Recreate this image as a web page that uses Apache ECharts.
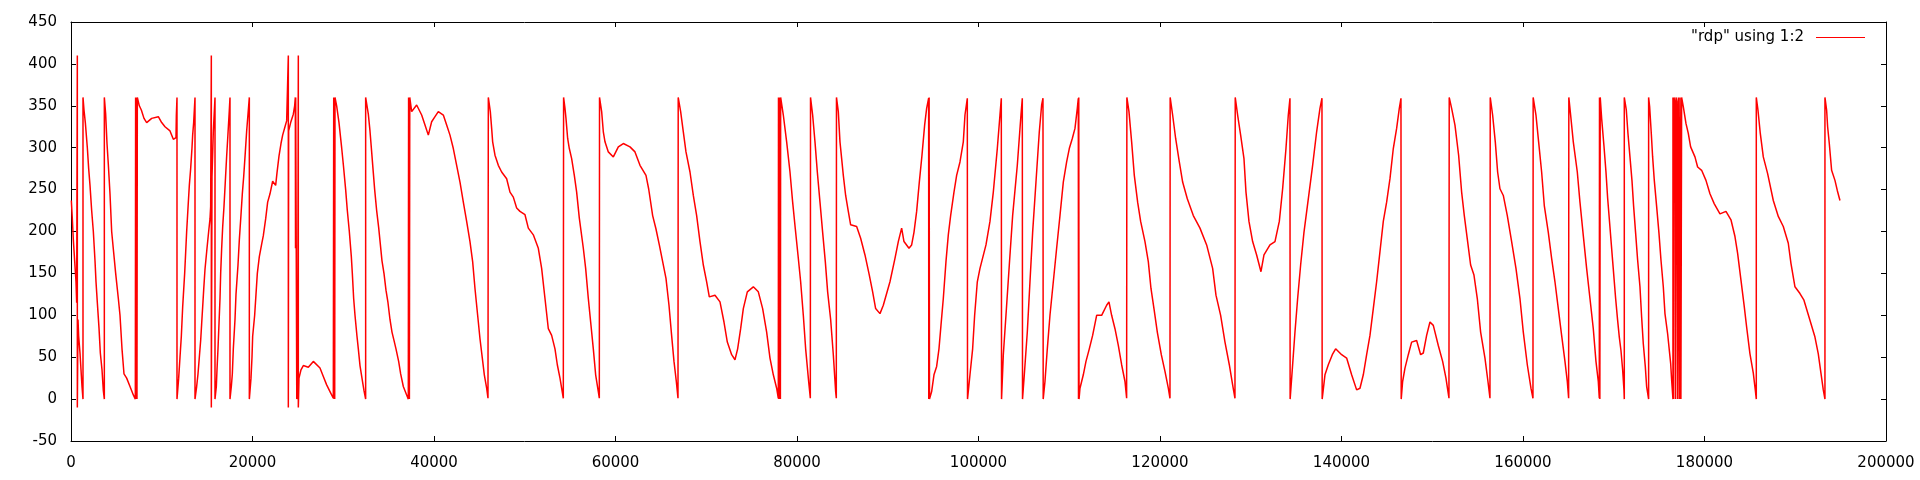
<!DOCTYPE html>
<html>
<head>
<meta charset="utf-8">
<script src="https://cdn.jsdelivr.net/npm/echarts@6/dist/echarts.min.js"></script>
<style>
html,body{margin:0;padding:0;background:#fff;}
#chart{width:1920px;height:480px;}
</style>
</head>
<body>
<div id="chart"></div>
<script>
const seriesName = '"rdp" using 1:2';
const xMin = 0, xMax = 200000, xStep = 20000;
const yMin = -50, yMax = 450, yStep = 50;

const rdpPart1 = [[37,237],[147,215],[257,190],[404,165],[551,140],[624,115],[698,410],[698,-10],[771,95],[845,75],[992,55],[1102,35],[1212,15],[1322,0],[1322,360],[1432,345],[1579,330],[1800,300],[1947,275],[2094,255],[2277,225],[2461,200],[2645,165],[2755,140],[2902,115],[3085,85],[3232,55],[3416,35],[3563,10],[3673,0],[3673,360],[3820,340],[3967,305],[4114,280],[4297,245],[4481,200],[4701,175],[4922,150],[5216,120],[5399,100],[5620,60],[5840,30],[6134,25],[6501,15],[6869,5],[7089,0],[7120,360],[7150,0],[7180,360],[7210,0],[7240,360],[7270,0],[7309,360],[7530,350],[7750,345],[8044,335],[8338,330],[8889,335],[9623,337],[9991,330],[10358,325],[10909,320],[11276,310],[11570,312],[11607,338],[11680,360],[11680,0],[11864,25],[12011,50],[12158,75],[12305,110],[12415,130],[12525,150],[12635,175],[12745,200],[12929,235],[13039,255],[13186,275],[13333,300],[13406,315],[13517,330],[13664,360],[13664,0],[13847,15],[13994,30],[14141,50],[14288,70],[14398,90],[14509,110],[14619,130],[14766,155],[14986,180],[15170,200],[15317,215],[15390,230],[15463,410],[15463,-10],[15537,265],[15684,320],[15868,360],[15868,0],[16015,15],[16088,35],[16198,60],[16308,90],[16418,120],[16492,150],[16602,180],[16712,205],[16859,230],[17006,260],[17153,290],[17263,310],[17447,345],[17520,360],[17520,0],[17667,15],[17777,30],[17887,60],[18071,95],[18181,125],[18402,160],[18549,190],[18732,220],[18879,245],[19026,265],[19210,295],[19357,320],[19541,345],[19651,360],[19651,0],[19835,25],[19944,50],[20018,75],[20238,100],[20385,125],[20532,150],[20752,170],[21010,185],[21193,195],[21450,215],[21670,235],[21928,245],[22221,260],[22552,255],[22699,270],[22919,290],[23140,305],[23323,315],[23580,325],[23764,332],[23948,410],[23948,-10],[23984,320],[24205,330],[24498,340],[24645,350],[24719,360],[24740,180],[24760,360],[24866,360],[24880,0],[24976,10],[25049,410],[25049,-10],[25123,25],[25343,35],[25600,40],[26151,38]];

const rdpPart2 = [[26702,45],[27437,37],[27804,27],[28172,17],[28539,9],[28906,1],[28950,360],[28990,0],[29030,360],[29060,0],[29090,360],[29273,350],[29530,330],[29824,300],[30008,280],[30265,250],[30449,225],[30669,200],[30890,170],[31000,150],[31147,120],[31294,100],[31514,75],[31661,60],[31845,40],[32138,20],[32285,10],[32469,0],[32469,360],[32763,340],[32946,320],[33130,295],[33314,270],[33461,250],[33681,225],[33901,205],[34085,185],[34269,165],[34489,150],[34709,130],[34930,115],[35150,95],[35371,80],[35591,70],[35811,60],[36105,45],[36326,30],[36619,15],[36987,5],[37170,0],[37200,360],[37230,0],[37260,360],[37290,0],[37330,360],[37538,343],[37721,341],[38089,351],[38640,339],[39007,327],[39374,315],[39741,331],[40109,337],[40476,343],[41027,339],[41394,327],[41762,315],[42129,299],[42496,279],[42864,259],[43231,235],[43598,212],[43965,188],[44259,164],[44516,132],[44810,100],[45067,72],[45324,49],[45545,29],[45802,13],[45949,1],[45986,0],[45986,360],[46206,343],[46353,323],[46463,307],[46720,291],[47087,279],[47455,271],[48006,263],[48373,247],[48740,241],[49108,228],[49475,224],[50026,220],[50393,204],[50944,196],[51495,180],[51862,156],[52230,120],[52597,84],[52964,76],[53332,60],[53589,41],[53883,25],[54250,1],[54280,0],[54280,360],[54433,347],[54543,335],[54727,311],[54911,299],[55168,287],[55462,267],[55719,247],[56013,216]];

const rdpPart3 = [[56454,180],[56711,156],[57005,120],[57262,92],[57556,60],[57813,29],[58107,9],[58217,1],[58240,0],[58240,360],[58474,343],[58658,319],[58842,307],[59209,295],[59760,289],[60311,301],[60862,305],[61597,301],[62147,295],[62698,279],[63359,267],[63653,251],[64094,219],[64461,203],[64829,184],[65196,164],[65563,144],[65894,112],[66151,80],[66445,45],[66702,21],[66886,1],[66910,0],[66910,360],[67179,343],[67473,319],[67767,295],[68208,271],[68575,243],[68942,219],[69310,188],[69677,160],[70044,140],[70338,122],[70963,124],[71514,116],[71954,92],[72322,68],[72799,53],[73166,47],[73460,60],[73791,84],[74085,108],[74525,128],[75187,134],[75737,128],[76215,108],[76656,80],[77023,49],[77390,29],[77758,13],[77941,1],[77960,0],[77960,360],[78000,0],[78050,360],[78090,0],[78130,360],[78170,0],[78199,360],[78492,339],[78860,307],[79227,271],[79521,235],[79815,203],[80109,172],[80402,140],[80696,100],[80953,60],[81284,21],[81468,1],[81490,0],[81490,360],[81724,339],[81982,307],[82239,271],[82533,235],[82826,199],[83120,164],[83377,128],[83708,95],[84002,53],[84259,9],[84332,1],[84350,0],[84350,360]];

const rdpPart4 = [[84552,343],[84736,307],[84920,287],[85103,267],[85360,243],[85654,224],[85911,208],[86572,206],[87013,192],[87491,172],[87968,148],[88335,128],[88666,108],[89144,102],[89511,112],[90245,140],[90796,168],[91164,188],[91531,204],[91788,188],[92339,180],[92633,184],[92890,199],[93184,224],[93478,259],[93772,291],[94065,327],[94286,347],[94506,359],[94520,360],[94520,0],[94560,0],[94560,360],[94600,360],[94600,0],[94837,9],[95094,29],[95388,39],[95645,60],[95865,88],[96122,120],[96416,164],[96673,196],[96930,219],[97298,247],[97591,267],[97959,283],[98326,307],[98510,339],[98767,359],[98790,360],[98790,0],[99061,29],[99354,60],[99575,100],[99869,140],[100163,156],[100824,184],[101264,212],[101632,247],[102073,299],[102366,339],[102513,359],[102540,360],[102540,0],[102734,53],[103027,100],[103395,160],[103762,219],[104276,279],[104680,339],[104827,359],[104850,360],[104850,0],[105048,29],[105378,80],[105672,140],[105966,199],[106333,259],[106700,319],[106958,351],[107105,359],[107130,360],[107130,0],[107325,21],[107582,60],[107876,100],[108243,140],[108610,180],[108978,219],[109345,259],[109712,283],[110006,299],[110337,311],[110631,323],[110888,347],[110998,359],[111020,360],[111020,0],[111050,0],[111050,360],[111080,360],[111080,0],[111182,13],[111549,29],[111843,45],[112210,60],[112577,76]];

const rdpPart5 = [[113019,100],[113570,100],[114121,112],[114377,116],[114671,100],[115039,84],[115406,64],[115773,41],[116141,21],[116324,1],[116350,0],[116350,360],[116581,343],[116875,307],[117169,267],[117536,235],[117867,212],[118344,188],[118712,164],[119006,132],[119336,108],[119703,80],[120144,53],[120548,33],[120916,13],[121099,1],[121120,0],[121120,360],[121393,339],[121724,311],[122128,283],[122495,259],[123009,239],[123670,219],[124405,204],[125140,184],[125801,156],[126168,124],[126682,100],[127160,68],[127637,41],[128004,17],[128261,1],[128290,0],[128290,360],[128555,339],[128886,315],[129253,287],[129474,247],[129804,212],[130208,188],[130649,172],[131126,152],[131457,172],[132118,184],[132669,188],[133147,212],[133514,251],[133881,299],[134138,339],[134322,359],[134340,360],[134340,0],[134615,41],[134873,80],[135167,120],[135497,160],[135864,199],[136342,239],[136819,279],[137260,319],[137627,347],[137847,359],[137870,360],[137870,0],[138178,29],[138546,41],[138987,53],[139354,60],[140015,53],[140566,49],[141117,29],[141668,11]];

const rdpPart6 = [[142035,13],[142402,29],[142770,53],[143137,76],[143504,108],[143871,140],[144239,176],[144606,212],[144973,235],[145341,263],[145708,299],[146075,323],[146369,347],[146553,359],[146580,360],[146580,0],[146736,21],[146994,37],[147361,53],[147728,68],[148279,70],[148720,53],[149014,55],[149381,76],[149748,92],[150116,88],[150666,64],[151144,45],[151511,25],[151842,1],[151870,0],[151870,360],[152136,347],[152503,327],[152907,291],[153238,247],[153532,219],[153899,188],[154229,160],[154597,148],[154964,120],[155331,80],[155809,49],[156139,21],[156360,1],[156390,0],[156390,360],[156653,339],[156947,307],[157204,271],[157462,251],[157829,243],[158270,219],[158747,188],[159225,156],[159665,120],[160033,80],[160474,41],[160877,13],[161098,1],[161120,0],[161120,360],[161428,339],[161722,307],[162053,271],[162346,231],[162787,199],[163155,168],[163522,140],[163889,108],[164257,76],[164624,45],[164881,21],[165028,1],[165050,0],[165050,360],[165248,339],[165542,307],[165983,271],[166277,235],[166644,195],[167011,156],[167379,120],[167746,84],[168040,45],[168297,21],[168407,1],[168430,0],[168430,360],[168470,360],[168470,0],[168510,0],[168510,360],[168665,335],[168922,302],[169143,271],[169326,240],[169583,205],[169877,165],[170208,120]];

const rdpPart7 = [[170428,94],[170611,74],[170795,58],[170979,35],[171126,11],[171162,0],[171162,360],[171383,345],[171566,317],[171787,289],[172007,261],[172191,230],[172411,198],[172631,166],[172888,134],[173072,98],[173256,66],[173476,39],[173623,15],[173843,0],[173843,360],[173954,349],[174137,317],[174284,289],[174468,261],[174725,230],[174982,198],[175203,166],[175460,134],[175643,102],[175937,78],[176268,43],[176378,23],[176525,0],[176525,360],[176600,360],[176600,0],[176640,0],[176640,360],[176780,350],[176820,350],[176820,0],[176860,0],[176860,360],[176950,355],[177050,355],[177050,0],[177120,0],[177120,360],[177250,360],[177250,0],[177300,0],[177300,360],[177400,360],[177400,0],[177480,0],[177480,360],[177664,349],[177957,329],[178214,317],[178471,301],[178949,289],[179243,277],[179684,273],[180161,261],[180602,245],[181080,233],[181704,221],[182365,224],[182916,214],[183357,194],[183650,174],[184018,142],[184385,110],[184642,86],[185010,54],[185377,31],[185597,11],[185707,0],[185707,360],[185891,345],[186148,317],[186479,289],[186956,269],[187581,237],[188132,218],[188682,206],[189233,186],[189527,162],[189968,134],[190519,126],[190959,118],[191620,94],[192171,74],[192538,54],[192832,31],[193089,11],[193273,0],[193273,360],[193457,345],[193568,325],[193751,305],[194008,273],[194376,261],[194633,249],[194927,237]];

const rdpData = [].concat(rdpPart1, rdpPart2, rdpPart3, rdpPart4, rdpPart5, rdpPart6, rdpPart7);

const FONT = 'DejaVu Sans';
const chart = echarts.init(document.getElementById('chart'), null, {renderer: 'canvas'});

const axisCommon = {
  axisLine: {show: true, onZero: false, lineStyle: {color: '#000', width: 1}},
  axisTick: {show: true, inside: true, length: 5, lineStyle: {color: '#000', width: 1}},
  splitLine: {show: false}
};
const plainNumber = function (v) { return String(v); };

chart.setOption({
  animation: false,
  backgroundColor: '#fff',
  grid: {left: 71, right: 34, top: 22, bottom: 39, containLabel: false},
  legend: {
    show: true,
    right: 50,
    top: 25,
    align: 'right',
    icon: 'rect',
    itemWidth: 49,
    itemHeight: 1,
    itemStyle: {color: '#ff0000'},
    data: [{name: seriesName, icon: 'rect'}],
    textStyle: {fontFamily: FONT, fontSize: 15, color: '#000', padding: [0, 7, 0, 0]}
  },
  xAxis: [
    Object.assign({
      type: 'value', min: xMin, max: xMax, interval: xStep, position: 'bottom',
      axisLabel: {fontFamily: FONT, fontSize: 15, color: '#000', margin: 15, formatter: plainNumber}
    }, axisCommon),
    Object.assign({
      type: 'value', min: xMin, max: xMax, interval: xStep, position: 'top',
      axisLabel: {show: false}
    }, axisCommon)
  ],
  yAxis: [
    Object.assign({
      type: 'value', min: yMin, max: yMax, interval: yStep, position: 'left',
      axisLabel: {fontFamily: FONT, fontSize: 15, color: '#000', margin: 14, formatter: plainNumber}
    }, axisCommon),
    Object.assign({
      type: 'value', min: yMin, max: yMax, interval: yStep, position: 'right',
      axisLabel: {show: false}
    }, axisCommon)
  ],
  series: [{
    name: seriesName,
    type: 'line',
    xAxisIndex: 0,
    yAxisIndex: 0,
    data: rdpData,
    showSymbol: false,
    symbol: 'none',
    lineStyle: {color: '#ff0000', width: 1.5},
    itemStyle: {color: '#ff0000'}
  }]
});
</script>
</body>
</html>
